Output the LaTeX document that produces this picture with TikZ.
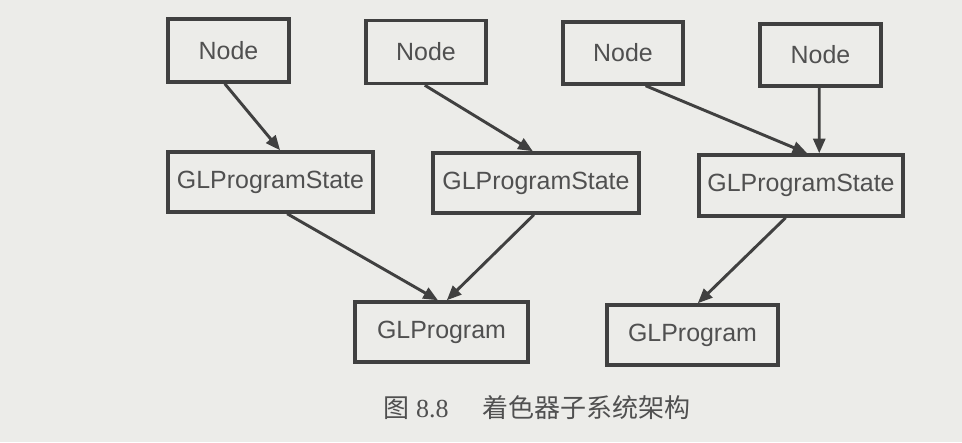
\documentclass[tikz,border=0pt]{standalone}
\usepackage{fontspec}
\setsansfont{Liberation Sans}
\newfontfamily\cjk{Noto Sans CJK SC}
\newfontfamily\capserif{Liberation Serif}
\usetikzlibrary{arrows.meta,calc}
\definecolor{bgc}{RGB}{236,236,233}
\definecolor{linec}{RGB}{64,64,64}
\definecolor{txtc}{RGB}{80,80,80}
\tikzset{
  box/.style={draw=linec, line width=2.6pt, fill=bgc, inner sep=0pt,
    text=txtc, font=\sffamily\fontsize{18.7}{22}\selectfont},
  conn/.style={draw=linec, line width=2.2pt, -{Triangle[length=11pt,width=9pt]}}
}
\begin{document}
\begin{tikzpicture}[x=0.75pt,y=-0.75pt]
\fill[bgc] (0,0) rectangle (962,442);
\useasboundingbox (0,0) rectangle (962,442);
\node[box, minimum width=90.75pt, minimum height=47.25pt] (N1) at (228.5,50.5) {Node};
\node[box, minimum width=90pt, minimum height=47.25pt] (N2) at (426,52) {Node};
\node[box, minimum width=90pt, minimum height=46.5pt] (N3) at (623,53) {Node};
\node[box, minimum width=90.75pt, minimum height=46.5pt] (N4) at (820.5,55) {Node};
\node[box, minimum width=153.75pt, minimum height=45pt] (S1) at (270.5,182) {GLProgramState};
\node[box, minimum width=154.5pt, minimum height=45pt] (S2) at (536,183) {GLProgramState};
\node[box, minimum width=153pt, minimum height=45.75pt] (S3) at (801,185.5) {GLProgramState};
\node[box, minimum width=129.75pt, minimum height=45pt] (P1) at (441.5,332) {GLProgram};
\node[box, minimum width=128.25pt, minimum height=45pt] (P2) at (692.5,335) {GLProgram};
\node[text=txtc, font=\capserif\fontsize{19.5}{22}\selectfont, inner sep=0pt] (cap) at (537,408) {{\cjk 图} 8.8\hspace{1.3em}{\cjk 着色器子系统架构}};
\draw[conn] ($(N1.south west)!0.47!(N1.south east)$) -- ($(S1.north west)!0.546!(S1.north east)$);
\draw[conn] ($(N2.south west)!0.49!(N2.south east)$) -- ($(S2.north west)!0.485!(S2.north east)$);
\draw[conn] ($(N3.south west)!0.683!(N3.south east)$) -- ($(S3.north west)!0.53!(S3.north east)$);
\draw[conn] ($(N4.south west)!0.49!(N4.south east)$) -- ($(S3.north west)!0.588!(S3.north east)$);
\draw[conn] ($(S1.south west)!0.58!(S1.south east)$) -- ($(P1.north west)!0.48!(P1.north east)$);
\draw[conn] ($(S2.south west)!0.49!(S2.south east)$) -- ($(P1.north west)!0.53!(P1.north east)$);
\draw[conn] ($(S3.south west)!0.426!(S3.south east)$) -- ($(P2.north west)!0.53!(P2.north east)$);
\end{tikzpicture}
\end{document}
